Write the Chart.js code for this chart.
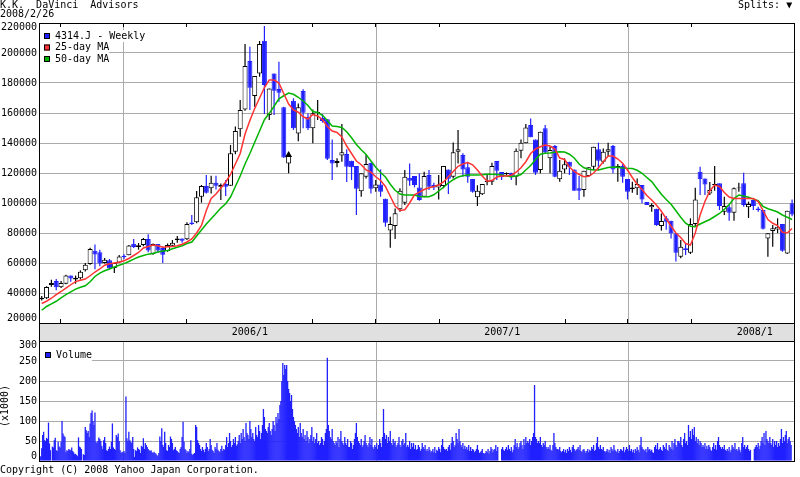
<!DOCTYPE html>
<html><head><meta charset="utf-8">
<script src="https://cdn.jsdelivr.net/npm/chart.js@4.4.1/dist/chart.umd.min.js"></script>
<style>
html,body{margin:0;padding:0;background:#fff;}
#wrap{position:relative;width:800px;height:477px;overflow:hidden;background:#fff;}
#wrap canvas{position:absolute;left:0;}
</style></head><body>
<div id="wrap">
<canvas id="priceCanvas" width="800" height="342" style="top:0px"></canvas>
<canvas id="volCanvas" width="800" height="147" style="top:330px"></canvas>
</div>
<script>
// ---------------- data (prices in thousand yen) ----------------
const titleText = 'K.K.  DaVinci  Advisors';
const dateText = '2008/2/26';
const seriesName = '4314.J - Weekly';
const maNames = ['25-day MA', '50-day MA'];
const firstWeekDate = '2005-03-06';
const open = [35.8,36.5,45.3,48,43.8,46.2,51.6,49,49.8,55.1,59.3,68.2,67.1,60,61.8,56.7,60.4,64.9,65.1,72.9,70.7,72,76,66.2,72.7,70,
68,71.5,75.3,76.4,75.8,87,87.1,104.2,111.3,109.8,113.5,110.5,112.7,111.5,134.2,149.1,162.4,194.7,171.3,186.4,208.2,158.7,186.4,176,163.8,126.4,
168.2,146.4,174.7,157.5,149.8,160,156.6,155.8,128.7,126.7,131.7,132.7,128.2,124.7,107.8,117.5,126.9,109.8,112.4,102.9,81.6,84.7,95.8,100.2,116.8,118,
110.4,104.2,118.7,112,110.4,111.3,122.4,117.5,134.2,132,123.8,116,103.8,105.8,114,114.2,128,120.7,119.1,120.2,117.5,134.9,139.8,152,142.4,122,
149.8,129.8,138,115.8,122.4,127.5,122.4,109.8,108.7,118,124.2,135.8,127.5,134.2,138,123.8,124.7,116,109.1,109.8,112,100.7,97.1,96.2,84.7,89.8,
88.2,79.8,64.2,69.8,66.9,86,120.9,116.4,106.4,112,113.1,94.2,97.1,93.5,109.8,113.1,97.1,102,96.4,95.3,76.4,81.3,82.4,86,66.4,99.8];
const close = [36.8,44,46.7,43.8,46.7,51.6,49.6,50.2,54.2,58.9,69.3,65.6,59.6,62.2,56.4,60,64.4,64,71.6,70.7,71.8,76,68.4,72.7,68.4,65.5,
72,73.5,76.4,74.9,86,86,103.8,111.3,106.9,113.5,111.5,112,110.9,133.1,148,162,191.3,176.9,184.7,206,178.7,176.4,174.9,173.5,130.4,132,
149.8,163.8,160.2,149.8,159.8,160.6,154.6,129.5,126.4,128,133.9,124.2,123.8,109.5,119.8,126,109.5,112.4,107.5,86.9,86,93.1,108.2,117.5,114.8,112,
102,118,110.9,110.4,112.4,124.7,116.2,133.8,135.8,122.4,117.5,107.5,108.2,112.7,114.7,124.7,121.5,117.1,120,117.1,134.9,140.2,150.4,143.8,120.2,147.5,
133.6,135.3,117.5,121.5,125.8,124.2,108.2,108.2,121.5,123.8,137.5,128.2,134.2,135.8,122.4,124.7,117.5,107.5,110.4,112.7,102.4,98.7,98.7,85.3,88,87.5,
79.8,66.9,70.9,68.7,86,102.4,115.8,112.4,108.7,112.7,98,98,93.5,109.8,110.4,98.7,99.3,98,95.3,82.9,79.8,83.1,84.2,68.2,94.9,92.4];
const high = [38,44.5,48.9,49.3,48,52.2,51.6,51.6,55.1,60,70.2,72.4,68.9,63.3,62.7,60,65.3,65.8,72,76,73.3,76.7,79.1,73,72.7,71,
73,75.3,78,76.4,87.1,92,108,112,118.7,118.2,118.2,113,115.3,138.7,151,168.7,206,204.2,184.7,208,218,176.4,186.4,194.2,164.2,134,
169.8,166.4,175.8,159.8,162.4,168.7,159.3,155.8,142.4,129.8,152.7,135.8,128.2,124.7,119.8,132,126.9,115.3,122.4,102.9,90.9,96.4,109.8,122,126.4,118,
119.8,120.9,122,113.5,118.7,124.7,122.4,140.4,148.7,133.1,127.5,116,111.8,112.7,118.7,126.9,128,120.7,120.4,120.2,136.4,142.4,152.7,156.4,142.4,147.5,
152,137.5,138.7,128.7,129.8,127.5,122.4,118,121.5,123.8,137.5,140.2,136.4,140.2,138.7,126,126,116,114.2,116.4,112,100.7,99.8,96.2,93,91.3,
88.2,79.8,75.3,73.1,89.8,110.2,124.2,116.4,114,124.7,113.1,104.2,98.7,110.4,113.5,120.2,100.9,102,97.5,95.3,79.8,85.3,89.8,86,94.9,102.4];
const low = [35,36,44.2,41.8,43.3,45.8,47.5,46.2,49,54.4,58.9,55.8,57.8,59.6,55.6,53.3,60,62.7,65.1,70,68.9,71.1,67.1,65.5,66.7,60,
67.5,70.9,73.5,73.5,75.3,85.3,86.5,100.2,106.4,106.4,109,102,104.7,111.5,132.5,144.2,161.5,162,164.2,184.2,159.3,155.3,158.7,167.5,130.2,119.8,
148.7,141.1,149.8,148.7,139.8,155.3,153.6,128.7,115.3,123.8,127.5,114,115.3,92,104.2,116.4,106.4,107.5,104.2,84.2,70.2,76,94.2,98.7,111.5,110.4,
101.5,103.8,108.7,108.7,102.4,109.8,106,116.4,126.4,117.5,113.5,106.9,98,105.3,111.8,112,115.3,115.3,118.7,115.3,111.8,129.8,139.8,143.8,118.7,119.8,
133.1,119.8,117.1,114.2,119.8,118.7,108.2,102,104.2,117.5,122,122,126.4,130.9,119.8,114.2,113.5,102.4,106.9,105.3,99.8,98.7,94.2,84.7,81.6,82.2,
76.4,61,63.1,65.3,66,84.2,105.3,105.3,105.3,108.2,95.3,92,88.2,88.2,107.5,97.5,90,95.3,94.2,82.4,64.2,70.9,80,67.5,66,91.1];
const ma25 = [33,34.5,36.5,38.9,41,43.3,45.5,47.6,48.5,49.3,51.5,54,56,58.5,59.5,60,60.5,61.5,63,65,67,70,71,72,71.5,70.5,
70.8,71,71.5,72.5,74,76,80,85,95,103,106,110,114,119,126,133,146,155,163,170,177,182,182,180,173,166,
162,160.5,157.5,156,159,158,155.5,151,148,147,144,138,133,128,125.5,122,120.5,117.5,115,111,104.5,98,95,95.5,100,105.5,
107.3,109,110.2,111,112,114,117.5,121,124.5,126,127,125.5,122,118,114.5,115,117.3,118,118,118.5,120.5,123.5,127.5,133,136,137.5,
138.7,138,136,130,129,124,121,119,117.5,117.8,120,123.5,127.5,131.3,131.3,129.3,126.5,122,117,112.5,109,105,102,98.5,94.5,89.5,
84.5,80,77,73,72,80,92,101,108,112,111,107,104,103,103,103,103,103,101,95,89,86.5,85,80.5,80,83];
const ma50 = [28.5,31,32.8,34.5,36.7,38.9,40.8,42.6,43.8,44.8,47.5,51,53.3,54.8,56,57.3,58.5,59.6,61,62.6,64,65,65.9,66.4,67.3,68,
68.3,69.5,70.5,71.5,73,74,78,82,86,89.5,93,96.6,99.5,104,111,118,126,133,140.5,148,155.5,159.8,164.5,169.5,171.5,173.3,
172.5,170.5,168,165,161,160.3,158.5,155,151.3,151,150.3,147.5,143.5,139,135.5,132.3,128,123.8,120.3,117.3,112.5,108.5,106,105.3,105.3,105.3,
104.3,104.2,104.2,105.5,108,110.5,113.3,115.5,117.3,118.2,118.6,118.7,118.7,118.8,119.1,119.2,119,118.6,118,117.5,118,119,122,125,129,132.5,
133.1,133.4,133.8,134.1,134,132.5,130,126,123.5,122.5,122,122,122.8,123.6,124,123.8,123.3,123.1,123,121.8,119.8,117,114.3,110,105.8,102.3,
99.2,94.8,90.5,86.5,84.5,84.2,86,87.5,89,91,93,95.8,99,103,105.3,104.7,103.8,102.6,101.5,97.8,96.2,95.2,94,92,90.5,89];
// daily volume (x1000 shares), five trading days per weekly candle, 0 = market closed
const volume = [
10,12,32,65,73,52,50,58,55,96,44,27,0,36,34,52,58,27,25,48,36,34,48,100,69,63,60,22,27,25,
30,28,
27,34,25,22,17,18,15,12,59,36,34,30,0,17,15,85,77,70,75,60,94,120,126,100,90,121,48,45,50,59,
55,50,
38,30,52,60,45,27,25,30,36,30,48,94,34,30,28,65,60,69,50,27,20,23,22,25,20,161,57,50,73,52,
48,45,
60,30,10,27,25,34,30,28,20,38,35,57,30,45,40,35,30,27,25,27,22,20,23,20,18,15,12,20,61,50,
82,40,
35,73,45,27,25,40,35,61,55,45,27,30,35,27,25,22,20,30,35,60,98,48,30,27,20,25,22,30,52,18,
15,18,
20,90,85,52,45,40,
30,25,35,28,
22,30,45,35,25, 30,55,40,28,25, 20,35,30,45,28, 25,22,30,38,25, 30,28,40,60,35, 45,70,50,35,40, 55,45,60,38,42, 50,65,45,70,55, 80,60,50,95,70, 65,55,100,80,60, 70,55,50,85,65, 60,90,75,55,70,
90,130,110,80,75, 70,85,95,75,65, 80,100,90,75,110, 95,120,105,140,150, 200,245,215,240,230, 240,200,180,170,150, 165,130,110,100,90, 80,70,85,60,95, 70,60,80,55,65, 50,75,60,45,55, 65,85,50,60,45, 55,70,45,50,40,
45,60,55,40,50, 70,80,258,90,75, 60,55,80,50,45, 40,50,45,60,35, 55,75,50,45,40, 60,45,40,55,35, 35,50,45,30,40, 55,70,95,60,50, 45,40,55,35,40, 50,65,45,40,35, 45,60,40,55,35, 30,40,35,45,30,
40,55,45,35,60, 130,70,55,65,45, 60,50,75,45,40, 55,45,50,35,40, 45,60,40,35,50, 55,40,45,70,35, 40,35,50,30,45, 35,45,30,40,28, 30,40,35,25,30, 45,35,30,40,25, 30,25,35,28,22, 25,30,22,35,20,
28,25,35,30,22, 40,55,35,30,28, 30,25,35,40,28, 45,60,50,35,40, 70,55,45,80,50, 40,35,45,30,38, 30,35,28,40,25, 35,25,30,28,22, 25,30,40,28,20, 22,25,30,20,18, 20,25,22,30,18, 25,35,30,22,28,
30,40,25,35,0, 0,0,30,35,28, 25,30,35,28,40, 30,25,35,22,28, 40,55,35,45,30, 35,45,50,40,30, 55,40,60,45,50, 45,55,40,50,60, 70,190,60,55,45, 50,45,60,40,35, 45,40,50,35,30, 35,30,40,28,25,
40,70,45,35,30, 30,28,35,25,22, 25,30,22,28,20, 30,25,35,28,22, 35,40,30,25,28, 30,35,28,40,25, 22,28,30,25,20, 25,30,22,28,25, 35,30,40,25,28, 45,60,35,30,40, 30,28,35,25,22, 25,30,22,28,20,
35,30,25,40,28, 25,22,30,20,25, 30,28,25,35,22, 28,35,30,25,40, 25,30,22,28,20, 30,25,35,28,22, 40,60,35,30,28, 25,30,22,35,28, 30,25,28,22,20, 35,40,30,45,28, 30,35,28,25,40, 35,30,45,28,25,
40,35,30,50,28, 45,55,40,35,50, 50,45,60,40,35, 55,70,45,50,40, 90,60,75,55,80, 65,85,50,60,45, 55,40,50,45,35, 40,35,45,30,38, 30,40,35,28,25, 35,45,30,40,28, 50,60,40,35,30, 35,30,40,28,25,
30,25,35,22,28, 40,35,30,45,28, 30,25,35,28,22, 45,60,35,40,30, 35,40,30,25,28, 0,0,0,30,35, 40,35,45,30,38, 50,60,45,70,40, 75,55,50,45,60, 45,40,55,35,50, 40,50,35,45,38, 55,80,45,60,50,
65,75,45,55,60, 50,40,0,0,0];
const splitWeeks = [51];
const priceTicks = [20000,40000,60000,80000,100000,120000,140000,160000,180000,200000,220000];
const volumeTicks = [0,50,100,150,200,250,300];
const yearLabels = ['2006/1','2007/1','2008/1'];
const yearDates = ['2006-01-01','2007-01-01','2008-01-01'];
const quarterDates = ['2005-04-01','2005-07-01','2005-10-01','2006-04-01','2006-07-01','2006-10-01','2007-04-01','2007-07-01','2007-10-01'];

// ---------------- helpers ----------------
const FONT = '10px "DejaVu Sans Mono", "Liberation Mono", monospace';
const GRID = '#aaaaaa';
const BLUE = '#2020ff';
const RED = '#ff3333';
const GREEN = '#00b400';
const K = 1000;
const DAYS_PER_WEEK = 5;
const anchor = Date.parse(firstWeekDate + 'T00:00:00Z');
function weekPos(s){ return (Date.parse(s + 'T00:00:00Z') - anchor) / (7 * 86400000); }
function dayPos(i){ const w = Math.floor(i / DAYS_PER_WEEK), d = i % DAYS_PER_WEEK; return w + (d - 2) / DAYS_PER_WEEK; }
const xMin = -0.56, xMax = 155.6;
const idx = close.map((_, i) => i);
const up = idx.map(i => close[i] >= open[i]);

function clampLabelY(y, a){ return Math.min(Math.max(y, a.top + 4), a.bottom - 5); }
function frame(ctx, a){
  ctx.save(); ctx.strokeStyle = '#000'; ctx.lineWidth = 1;
  ctx.strokeRect(Math.round(a.left) + 0.5, Math.round(a.top) + 0.5, Math.round(a.right - a.left) - 1, Math.round(a.bottom - a.top));
  ctx.restore();
}
function quarterTicks(chart){
  const {ctx, chartArea:a, scales:{x}} = chart;
  ctx.save(); ctx.strokeStyle = '#000'; ctx.lineWidth = 1; ctx.beginPath();
  quarterDates.forEach(d => {
    const px = Math.round(x.getPixelForValue(weekPos(d))) + 0.5;
    ctx.moveTo(px, a.top); ctx.lineTo(px, a.top + 4);
    ctx.moveTo(px, a.bottom); ctx.lineTo(px, a.bottom - 4);
  });
  ctx.stroke(); ctx.restore();
}
function yLabels(chart, ticks, fmt){
  const {ctx, chartArea:a, scales:{y}} = chart;
  ctx.save(); ctx.font = FONT; ctx.fillStyle = '#000'; ctx.textAlign = 'right'; ctx.textBaseline = 'middle';
  ticks.forEach(v => ctx.fillText(fmt(v), 37, clampLabelY(y.getPixelForValue(v), a)));
  ctx.restore();
}
function legendRow(ctx, x, y, color, text){
  ctx.font = FONT;
  const w = ctx.measureText(text).width;
  ctx.fillStyle = '#fff'; ctx.fillRect(40, y - 6, x + 11 + w - 40, 12);
  ctx.fillStyle = color; ctx.fillRect(x, y - 3, 6, 6);
  ctx.strokeStyle = '#000'; ctx.lineWidth = 1; ctx.strokeRect(x + 0.5, y - 2.5, 5, 5);
  ctx.fillStyle = '#000'; ctx.textAlign = 'left'; ctx.textBaseline = 'middle';
  ctx.fillText(text, x + 11, y);
}

const pricePlugin = {
  id: 'priceDecor',
  beforeDraw(chart){
    const {ctx, chartArea:a} = chart;
    ctx.save(); ctx.fillStyle = '#e0e0e0';
    ctx.fillRect(Math.round(a.left), Math.round(a.bottom), Math.round(a.right - a.left), 19);
    ctx.restore();
  },
  afterDraw(chart){
    const {ctx, chartArea:a, scales:{x}} = chart;
    frame(ctx, a);
    ctx.save(); ctx.strokeStyle = '#000'; ctx.beginPath();
    ctx.moveTo(Math.round(a.left) + 0.5, a.bottom); ctx.lineTo(Math.round(a.left) + 0.5, a.bottom + 19);
    ctx.moveTo(Math.round(a.right) - 0.5, a.bottom); ctx.lineTo(Math.round(a.right) - 0.5, a.bottom + 19);
    ctx.stroke(); ctx.restore();
    quarterTicks(chart);
    yLabels(chart, priceTicks, v => String(v));
    ctx.save(); ctx.font = FONT; ctx.fillStyle = '#000'; ctx.textBaseline = 'middle'; ctx.textAlign = 'center';
    yearDates.forEach((d, i) => ctx.fillText(yearLabels[i], x.getPixelForValue(weekPos(d)), a.bottom + 9.5));
    ctx.textAlign = 'left';
    ctx.fillText(titleText, 0, 5.5);
    ctx.fillText(dateText, 0, 14.5);
    ctx.fillText('Splits: \u25BC', 738, 5.5);
    legendRow(ctx, 44, 36, BLUE, seriesName);
    legendRow(ctx, 44, 47.5, RED, maNames[0]);
    legendRow(ctx, 44, 59, GREEN, maNames[1]);
    ctx.restore();
  }
};

const volPlugin = {
  id: 'volDecor',
  afterDraw(chart){
    const {ctx, chartArea:a} = chart;
    frame(ctx, a);
    yLabels(chart, volumeTicks, v => String(v));
    ctx.save(); ctx.font = FONT; ctx.fillStyle = '#000'; ctx.textBaseline = 'middle';
    ctx.save(); ctx.translate(5.5, 76); ctx.rotate(-Math.PI / 2); ctx.textAlign = 'center';
    ctx.fillText('(x1000)', 0, 0); ctx.restore();
    legendRow(ctx, 45, 25, BLUE, 'Volume');
    ctx.textAlign = 'left'; ctx.fillStyle = '#000';
    ctx.fillText('Copyright (C) 2008 Yahoo Japan Corporation.', 0, 140);
    ctx.restore();
  }
};

const xScale = (h) => ({
  type: 'linear', min: xMin, max: xMax, offset: false,
  afterBuildTicks: s => { s.ticks = yearDates.map(d => ({value: weekPos(d)})); },
  afterFit: s => { s.height = h; },
  ticks: {display: false},
  grid: {color: GRID, drawTicks: false},
  border: {display: false}
});
const yScale = (min, max, ticks) => ({
  type: 'linear', min, max,
  afterBuildTicks: s => { s.ticks = ticks.map(v => ({value: v})); },
  afterFit: s => { s.width = 39; },
  ticks: {display: false},
  grid: {color: GRID, drawTicks: false},
  border: {display: false}
});

new Chart(document.getElementById('priceCanvas'), {
  type: 'bar',
  data: {datasets: [
    {type: 'scatter', data: splitWeeks.map(k => ({x: k, y: Math.max(open[k], close[k]) * K})), pointStyle: 'triangle', pointRadius: 4, backgroundColor: '#000', borderColor: '#000', borderWidth: 0, order: 0},
    {type: 'line', label: maNames[0], data: ma25.map((v, i) => ({x: i, y: v * K})), borderColor: RED, borderWidth: 1.5, pointRadius: 0, tension: 0, order: 1},
    {type: 'line', label: maNames[1], data: ma50.map((v, i) => ({x: i, y: v * K})), borderColor: GREEN, borderWidth: 1.5, pointRadius: 0, tension: 0, order: 2},
    {type: 'bar', label: 'body', data: idx.map(i => ({x: i, y: [Math.min(open[i], close[i]) * K, Math.max(open[i], close[i]) * K]})),
      backgroundColor: up.map(u => u ? '#ffffff' : BLUE), borderColor: up.map(u => u ? '#000000' : BLUE),
      borderWidth: 1, borderSkipped: false, barThickness: 5, grouped: false, inflateAmount: 0, order: 3},
    {type: 'bar', label: 'wick', data: idx.map(i => ({x: i, y: [low[i] * K, high[i] * K]})),
      backgroundColor: up.map(u => u ? '#000000' : BLUE), borderWidth: 0, barThickness: 1.2, grouped: false, inflateAmount: 0, order: 4}
  ]},
  options: {
    responsive: false, animation: false, devicePixelRatio: 1,
    layout: {padding: {top: 23, right: 5, left: 0, bottom: 1}},
    plugins: {legend: {display: false}, tooltip: {enabled: false}},
    scales: {x: xScale(18), y: yScale(20000, 220000, priceTicks)}
  },
  plugins: [pricePlugin]
});

new Chart(document.getElementById('volCanvas'), {
  type: 'bar',
  data: {datasets: [
    {label: 'Volume', data: volume.map((v, i) => ({x: dayPos(i), y: v})), backgroundColor: BLUE, borderWidth: 0, barThickness: 1.3, grouped: false, inflateAmount: 0}
  ]},
  options: {
    responsive: false, animation: false, devicePixelRatio: 1,
    layout: {padding: {top: 11, right: 5, left: 0, bottom: 16}},
    plugins: {legend: {display: false}, tooltip: {enabled: false}},
    scales: {x: xScale(0), y: yScale(0, 300, volumeTicks)}
  },
  plugins: [volPlugin]
});
</script>
</body></html>
